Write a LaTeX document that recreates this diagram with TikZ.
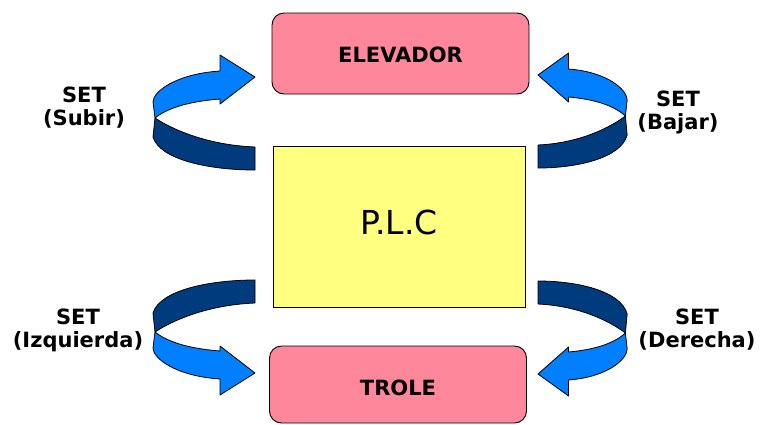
\documentclass[tikz,border=0pt]{standalone}
\usepackage{fontspec}
\setmainfont{DejaVu Sans}
\definecolor{pinkbox}{RGB}{255,135,155}
\definecolor{yellowbox}{RGB}{255,255,128}
\definecolor{lightblue}{RGB}{0,128,255}
\definecolor{darkblue}{RGB}{0,60,125}
\tikzset{
  pinkbox/.style={draw=black, line width=0.9pt, rounded corners=12pt, fill=pinkbox,
    minimum width=257pt, inner sep=0pt, font=\fontsize{21}{23}\selectfont\bfseries},
  plcbox/.style={draw=black, line width=0.9pt, fill=yellowbox, minimum width=252pt,
    minimum height=161pt, inner sep=0pt, font=\fontsize{33}{36}\selectfont},
  setlabel/.style={align=center, inner sep=0pt, font=\fontsize{21}{23}\selectfont\bfseries},
  twist/.pic={
    \filldraw[fill=lightblue, draw=black, line width=0.8pt, line join=round]
      (-100,-107) -- (-102,-123)
      .. controls (-102,-133) and (-80,-151) .. (-35,-154)
      -- (-35,-170) -- (0,-148) -- (-35,-121) -- (-35,-126)
      .. controls (-60,-124) and (-85,-119) .. (-100,-107) -- cycle;
    \filldraw[fill=darkblue, draw=black, line width=0.8pt, line join=round]
      (-100,-107) .. controls (-85,-97) and (-50,-80) .. (0,-78)
      -- (0,-55) .. controls (-45,-55) and (-95,-65) .. (-102,-88) -- cycle;
  }
}
\begin{document}
\begin{tikzpicture}[x=1pt, y=-1pt]
  \useasboundingbox (0,0) rectangle (763,424);
  \fill[white] (0,0) rectangle (763,424);
  % boxes
  \node[pinkbox, minimum height=81pt, text height=18.3pt] (elev) at (400.5,53.5) {ELEVADOR};
  \node[plcbox, text height=24pt, text depth=9pt] (plc) at (399,226.5) {P.L.C};
  \node[pinkbox, minimum height=77pt, text height=23pt] (trole) at (398,384.5) {TROLE};
  % twisted arrows
  \pic at (255,225) {twist};
  \pic[yscale=-1] at (255,225) {twist};
  \pic[xscale=-0.874] at (538,223) {twist};
  \pic[xscale=-0.874, yscale=-1] at (538,226) {twist};
  % labels
  \node[setlabel] (lsubir) at (84,107.3) {SET\\(Subir)};
  \node[setlabel] (lbajar) at (678,112) {SET\\(Bajar)};
  \node[setlabel] (lizq) at (78,330) {SET\\(Izquierda)};
  \node[setlabel] (lder) at (697,330) {SET\\(Derecha)};
\end{tikzpicture}
\end{document}
